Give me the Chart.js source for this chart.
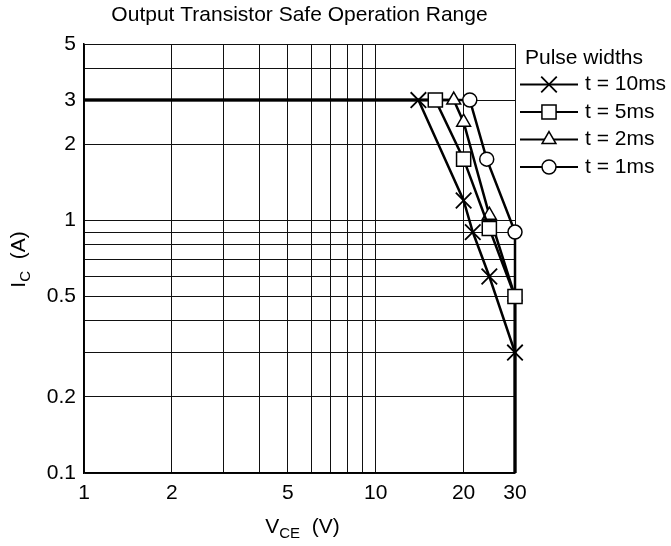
<!DOCTYPE html>
<html><head><meta charset="utf-8">
<script src="https://cdn.jsdelivr.net/npm/chart.js@4"></script>
<style>html,body{margin:0;padding:0;background:#fff}#wrap{width:671px;height:546px}</style>
</head><body><div id="wrap"><canvas id="c" width="671" height="546"></canvas></div>
<script>
// ---- data ----
const chartTitle = 'Output Transistor Safe Operation Range';
const legendTitle = 'Pulse widths';
const seriesNames = ['t = 10ms', 't = 5ms', 't = 2ms', 't = 1ms'];
const seriesMarkers = ['crossRot', 'rect', 'triangle', 'circle'];
// V_CE (V) / I_C (A); first and last points are the limit corners (no marker)
const vce10ms = [1, 14, 20, 21.5, 24.5, 30, 30];
const ic10ms  = [3, 3, 1.2, 0.9, 0.6, 0.3, 0.1];
const vce5ms  = [1, 16, 20, 24.5, 30, 30];
const ic5ms   = [3, 3, 1.75, 0.93, 0.5, 0.1];
const vce2ms  = [1, 18.5, 20, 24.5, 30, 30];
const ic2ms   = [3, 3, 2.45, 1.05, 0.5, 0.1];
const vce1ms  = [1, 21, 24, 30, 30];
const ic1ms   = [3, 3, 1.75, 0.9, 0.1];
const xGridValues = [1, 2, 3, 4, 5, 6, 7, 8, 9, 10, 20, 30];
const xTickLabels = [1, 2, 5, 10, 20, 30];
const yGridValues = [0.1, 0.2, 0.3, 0.4, 0.5, 0.6, 0.7, 0.8, 0.9, 1, 2, 3, 4, 5];
const yTickLabels = [0.1, 0.2, 0.5, 1, 2, 3, 5];
const xTitleMain = 'V', xTitleSub = 'CE', xTitleUnit = '(V)';
const yTitleMain = 'I', yTitleSub = 'C', yTitleUnit = '(A)';

// ---- styling ----
const FONT = "'Liberation Sans', Arial, Helvetica, sans-serif";
const FS = 21;
const markerRadius = { crossRot: 11, rect: 10, triangle: 8, circle: 7 };
const seriesX = [vce10ms, vce5ms, vce2ms, vce1ms];
const seriesY = [ic10ms, ic5ms, ic2ms, ic1ms];

const datasets = seriesNames.map((name, i) => {
  const xs = seriesX[i], ys = seriesY[i];
  const st = seriesMarkers[i];
  return {
    label: name,
    data: xs.map((x, k) => ({ x: x, y: ys[k] })),
    borderColor: '#000',
    borderWidth: 2.5,
    pointStyle: st,
    pointRadius: xs.map((x, k) => (k === 0 || k === xs.length - 1) ? 0 : markerRadius[st]),
    pointBackgroundColor: '#fff',
    pointBorderColor: '#000',
    pointBorderWidth: st === 'crossRot' ? 1.8 : 1.5,
    tension: 0,
    clip: false,
    order: i
  };
});

const overlay = {
  id: 'overlay',
  afterDraw(chart) {
    const ctx = chart.ctx;
    const area = chart.chartArea;
    ctx.save();
    ctx.fillStyle = '#000';
    ctx.strokeStyle = '#000';
    ctx.textBaseline = 'alphabetic';
    ctx.textAlign = 'left';
    const big = FS + 'px ' + FONT, small = '15px ' + FONT;
    // x axis title with subscript
    ctx.font = big; const wM = ctx.measureText(xTitleMain).width;
    const wU = ctx.measureText('  ' + xTitleUnit).width;
    ctx.font = small; const wS = ctx.measureText(xTitleSub).width;
    let x0 = (area.left + area.right) / 2 + 3 - (wM + wS + wU) / 2;
    const by = 533;
    ctx.font = big; ctx.fillText(xTitleMain, x0, by);
    ctx.font = small; ctx.fillText(xTitleSub, x0 + wM, by + 5);
    ctx.font = big; ctx.fillText('  ' + xTitleUnit, x0 + wM + wS, by);
    // y axis title
    ctx.font = big; const yM = ctx.measureText(yTitleMain).width;
    const yU = ctx.measureText('  ' + yTitleUnit).width;
    ctx.font = small; const yS = ctx.measureText(yTitleSub).width;
    ctx.translate(25, (area.top + area.bottom) / 2 + 1);
    ctx.rotate(-Math.PI / 2);
    let s0 = -(yM + yS + yU) / 2;
    ctx.font = big; ctx.fillText(yTitleMain, s0, 0);
    ctx.font = small; ctx.fillText(yTitleSub, s0 + yM, 5);
    ctx.font = big; ctx.fillText('  ' + yTitleUnit, s0 + yM + yS, 0);
    ctx.restore();

    // legend
    ctx.save();
    ctx.font = big;
    ctx.fillStyle = '#000';
    ctx.textBaseline = 'middle';
    ctx.textAlign = 'left';
    ctx.fillText(legendTitle, 525, 58);
    seriesNames.forEach((name, i) => {
      const y = 84.5 + i * 27.5;
      ctx.lineWidth = 2;
      ctx.strokeStyle = '#000';
      ctx.beginPath(); ctx.moveTo(520, y); ctx.lineTo(578, y); ctx.stroke();
      const st = seriesMarkers[i];
      ctx.fillStyle = '#fff';
      ctx.lineWidth = st === 'crossRot' ? 1.8 : 1.5;
      Chart.helpers.drawPoint(ctx, { pointStyle: st, radius: markerRadius[st], borderWidth: ctx.lineWidth, rotation: 0 }, 549, y);
      ctx.fillStyle = '#000';
      ctx.fillText(name, 585, y);
    });
    ctx.restore();
  }
};

const tickFont = { family: FONT, size: FS };
new Chart(document.getElementById('c'), {
  type: 'line',
  data: { datasets: datasets },
  options: {
    responsive: false,
    devicePixelRatio: 1,
    animation: false,
    events: [],
    layout: { padding: { left: 0, right: 156, top: 0, bottom: 0 } },
    plugins: {
      legend: { display: false },
      tooltip: { enabled: false },
      title: {
        display: true, text: chartTitle, color: '#000', fullSize: false,
        font: { family: FONT, size: FS, weight: 'normal' },
        padding: { top: 3, bottom: 15.8 }
      }
    },
    scales: {
      x: {
        type: 'logarithmic', min: 1, max: 30,
        afterBuildTicks: s => { s.ticks = xGridValues.map(v => ({ value: v })); },
        afterFit: s => { s.height = 73; },
        ticks: {
          autoSkip: false, maxRotation: 0, padding: 8, color: '#000', font: tickFont,
          callback: v => xTickLabels.includes(v) ? String(v) : ''
        },
        grid: { color: '#111', lineWidth: 1, drawTicks: false },
        border: { color: '#000', width: 1.5 }
      },
      y: {
        type: 'logarithmic', min: 0.1, max: 5,
        afterBuildTicks: s => { s.ticks = yGridValues.map(v => ({ value: v })); },
        afterFit: s => { s.width = 84; },
        ticks: {
          autoSkip: false, padding: 8, color: '#000', font: tickFont,
          callback: v => yTickLabels.includes(v) ? String(v) : ''
        },
        grid: { color: '#111', lineWidth: 1, drawTicks: false },
        border: { color: '#000', width: 1.5 }
      }
    }
  },
  plugins: [overlay]
});
</script>
</body></html>
